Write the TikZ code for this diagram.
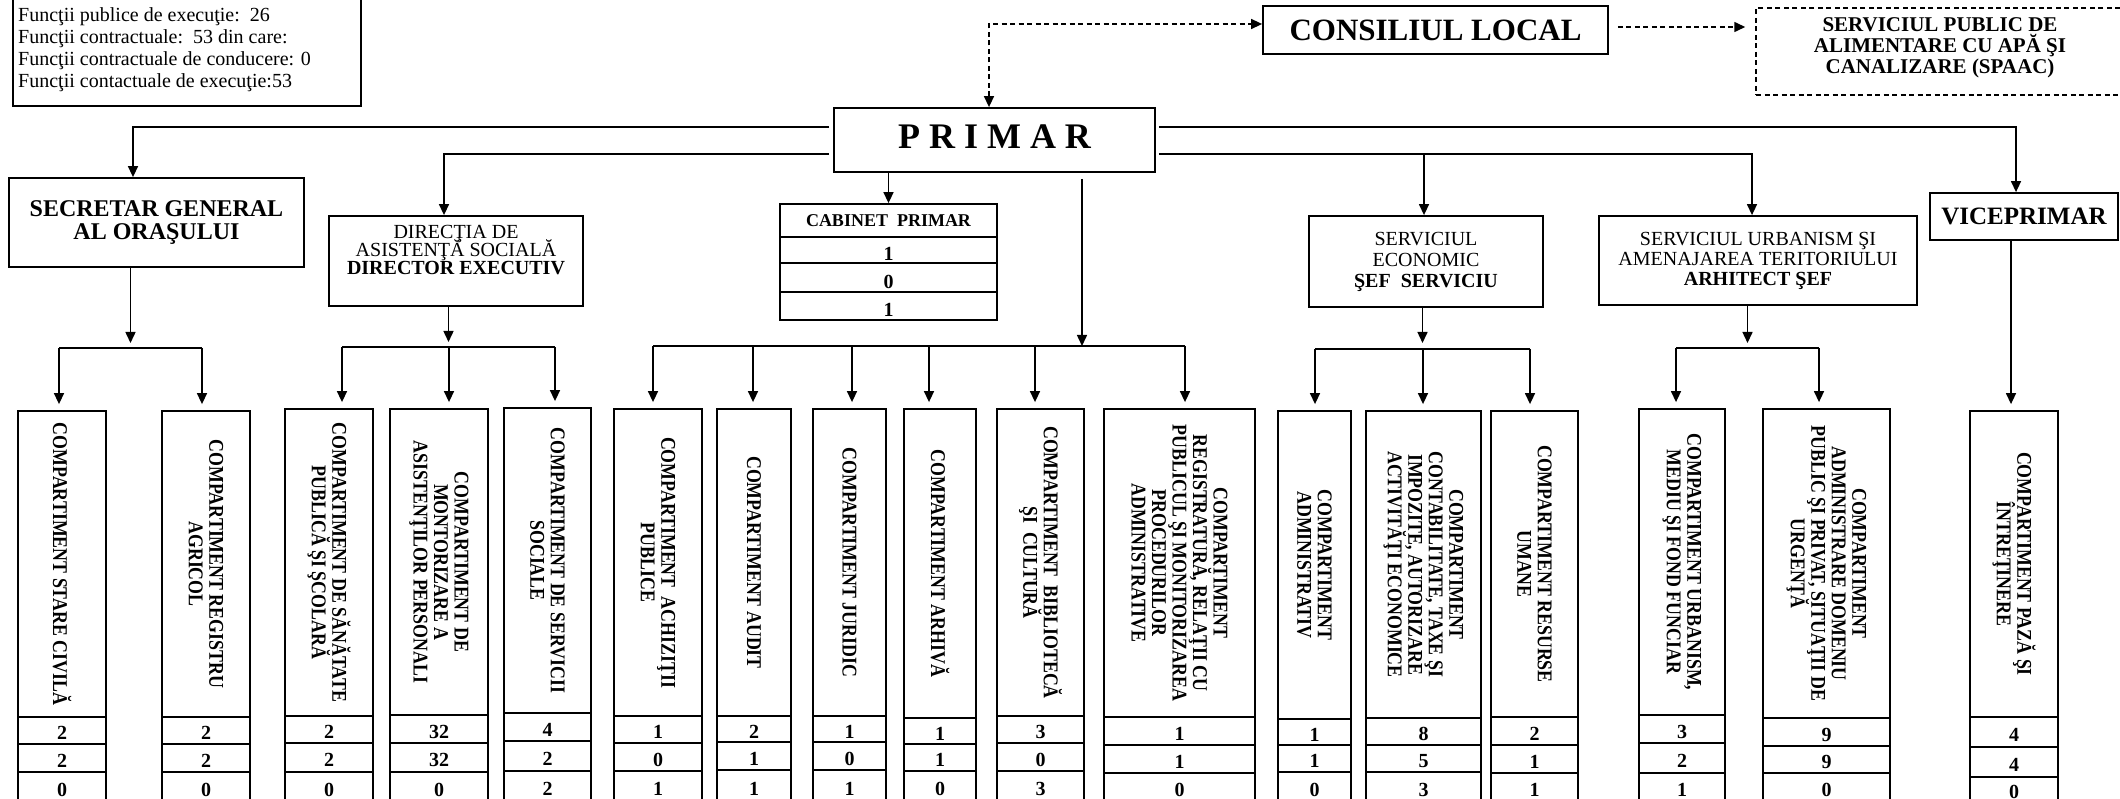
\documentclass[tikz,border=0pt]{standalone}
\usepackage{fontspec}
\setmainfont{Liberation Serif}
\newfontfamily\vfont{Liberation Serif}[FakeStretch=0.85]
\usetikzlibrary{arrows.meta,calc}
\newcommand\fz[2]{\fontsize{#1pt}{#2pt}\selectfont\lineskiplimit=-100pt\lineskip=0pt}
\lineskiplimit=-100pt
\begin{document}
\begin{tikzpicture}[x=1pt,y=-1pt,
  box/.style={draw,line width=1.8pt,inner sep=0pt,rectangle},
  ln/.style={line width=1.5pt},
  arr/.style={line width=1.5pt,-{Triangle[length=11pt,width=10pt]}},
  dsh/.style={line width=1.5pt,dash pattern=on 5pt off 3.5pt},
  vtext/.style={rotate=-90,align=center,inner sep=0pt,font=\vfont\fz{21}{20.5}\bfseries},
  num/.style={font=\fz{20}{20}\bfseries,text height=18pt,text depth=0pt},
]
\useasboundingbox (0,0) rectangle (2120,799);

% info box
\node[box,minimum width=348pt,minimum height=150pt] (info) at (187,31) {};
\node[anchor=north west,align=left,inner sep=0pt,font=\fz{20}{22}] (infot) at (18,7.5)
 {Funcţii publice de execuţie:\ \ 26\\Funcţii contractuale:\ \ 53 din care:\\Funcţii contractuale de conducere: 0\\Funcţii contactuale de execuţie:53};

% top row
\node[box,minimum width=345pt,minimum height=48pt,font=\fz{31}{31}\bfseries] (cl) at (1435.5,30) {CONSILIUL LOCAL};
\node[box,dsh,minimum width=368pt,minimum height=87pt] (spaac) at (1940,51.5) {};
\node[align=center,inner sep=0pt,font=\fz{21}{21}\bfseries] (spaact) at (1940,48)
 {SERVICIUL PUBLIC DE\\ALIMENTARE CU APĂ ŞI\\CANALIZARE (SPAAC)};

\node[box,minimum width=321pt,minimum height=64pt,font=\fz{36}{36}\bfseries,text depth=7pt] (primar) at (994.5,140) {P R I M A R};

% second level
\node[box,minimum width=295pt,minimum height=89pt,align=center,font=\fz{24}{23}\bfseries] (sec) at (156.5,222.5) {SECRETAR GENERAL\\AL ORAŞULUI};
\node[box,minimum width=254pt,minimum height=90pt] (das) at (456,261) {};
\node[align=center,inner sep=0pt,font=\fz{20}{18}] (dast) at (456,250) {DIRECŢIA DE\\ASISTENŢĂ SOCIALĂ\\\textbf{DIRECTOR EXECUTIV}};
\node[box,minimum width=217pt,minimum height=33pt,font=\fz{18}{18}\bfseries] (cab) at (888.5,220.5) {CABINET\ \ PRIMAR};
\node[box,num,text height=22pt,minimum width=217pt,minimum height=26pt] (cab1) at (888.5,250) {1};
\node[box,num,text height=22pt,minimum width=217pt,minimum height=29pt] (cab2) at (888.5,277.5) {0};
\node[box,num,text height=22pt,minimum width=217pt,minimum height=28pt] (cab3) at (888.5,306) {1};
\node[box,minimum width=234pt,minimum height=91pt,align=center,font=\fz{20}{21}] (econ) at (1426,261.5) {SERVICIUL\\ECONOMIC\\\textbf{ŞEF\ \ SERVICIU}};
\node[box,minimum width=318pt,minimum height=89pt,align=center,font=\fz{20}{20}] (urban) at (1758,260.5) {SERVICIUL URBANISM ŞI\\AMENAJAREA TERITORIULUI\\\textbf{ARHITECT ŞEF}};
\node[box,minimum width=188pt,minimum height=47pt,font=\fz{25}{25}\bfseries] (vice) at (2024,216.5) {VICEPRIMAR};

% connectors from PRIMAR
\coordinate (pl1) at ([yshift=13pt]primar.west);
\coordinate (pl2) at ([yshift=-14pt]primar.west);
\coordinate (pr1) at ([yshift=13pt]primar.east);
\coordinate (pr2) at ([yshift=-14pt]primar.east);
\draw[arr,shorten <=4pt] (pl1) -| ([xshift=-23.5pt]sec.north);
\draw[arr,shorten <=4pt] (pl2) -| ([xshift=-12pt]das.north);
\draw[arr,shorten <=3pt] (pr1) -| ([xshift=-8pt]vice.north);
\draw[arr,shorten <=3pt] (pr2) -| ([xshift=-6pt]urban.north);
\coordinate (ein) at ([xshift=-2pt]econ.north);
\draw[arr] (ein |- pr2) -- (ein);
\draw[arr] (cab.north |- primar.south) -- (cab.north);

% dashed links
\coordinate (dk) at (989,24);
\draw[dsh,{Triangle[length=11pt,width=10pt]}-{Triangle[length=11pt,width=10pt]}] (dk |- primar.north) -- (dk) -- (dk -| cl.west);
\draw[dsh,-{Triangle[length=11pt,width=10pt]},shorten <=9pt,shorten >=10pt] ([yshift=3pt]cl.east) -- ([yshift=3pt]cl.east -| spaac.west);

% compartments
\foreach \nm/\xa/\xb/\yt/\yb/\ra/\rb/\na/\nb/\nc/\ax/\by/\txt in {
 sc/18/106/411/717/744/772/2/2/0/59/348/{COMPARTIMENT STARE CIVILĂ},
 ra/162/250/411/717/744/772/2/2/0/202/348/{COMPARTIMENT REGISTRU\\AGRICOL},
 ss/285/373/409/716/743/772/2/2/0/342/347/{COMPARTIMENT DE SĂNĂTATE\\PUBLICĂ ŞI ŞCOLARĂ},
 mo/390/488/409/715/743/772/32/32/0/449/347/{COMPARTIMENT DE\\MONTORIZARE A\\ASISTENŢILOR PERSONALI},
 so/504/591/408/713/741/771/4/2/2/555/347/{COMPARTIMENT DE SERVICII\\SOCIALE},
 ac/614/702/409/716/743/771/1/0/1/653/346/{COMPARTIMENT\ \ ACHIZIŢII\\PUBLICE},
 au/717/791/409/716/742/770/2/1/1/753/346/{COMPARTIMENT AUDIT},
 ju/813/886/409/716/742/770/1/0/1/852/346/{COMPARTIMENT JURIDIC},
 ar/904/976/409/718/744/771/1/1/0/929/346/{COMPARTIMENT ARHIVĂ},
 bi/997/1084/409/716/743/771/3/0/3/1035/346/{COMPARTIMENT\ \ BIBLIOTECĂ\\ŞI\ \ CULTURĂ},
 rg/1104/1255/409/717/745/773/1/1/0/1185/346/{COMPARTIMENT\\REGISTRATURĂ, RELAŢII CU\\PUBLICUL ŞI MONITORIZAREA\\PROCEDURILOR\\ADMINISTRATIVE},
 ad/1278/1351/411/719/745/772/1/1/0/1315/349/{COMPARTIMENT\\ADMINISTRATIV},
 ct/1366/1481/411/718/745/772/8/5/3/1423/349/{COMPARTIMENT\\CONTABILITATE, TAXE ŞI\\IMPOZITE, AUTORIZARE\\ACTIVITĂŢI ECONOMICE},
 rs/1491/1578/411/717/745/773/2/1/1/1530/349/{COMPARTIMENT RESURSE\\UMANE},
 um/1639/1725/409/715/743/773/3/2/1/1676/348/{COMPARTIMENT URBANISM,\\MEDIU ŞI FOND FUNCIAR},
 dm/1763/1890/409/718/746/773/9/9/0/1819/348/{COMPARTIMENT\\ADMINISTRARE DOMENIU\\PUBLIC ŞI PRIVAT, SITUAŢII DE\\URGENŢĂ},
 pz/1970/2058/411/717/747/777/4/4/0/2011/240/{COMPARTIMENT PAZĂ ŞI\\ÎNTREŢINERE}}
{
 \node[box,minimum width={(\xb-\xa)*1pt},minimum height={(\yb-\yt)*1pt}] (\nm) at ({(\xa+\xb)/2},{(\yt+\yb)/2}) {};
 \node[vtext] (\nm-t) at (\nm.center) {\txt};
 \node[box,num,minimum width={(\xb-\xa)*1pt},minimum height={(\ra-\yb)*1pt}] (\nm-1) at ({(\xa+\xb)/2},{(\yb+\ra)/2}) {\na};
 \node[box,num,minimum width={(\xb-\xa)*1pt},minimum height={(\rb-\ra)*1pt}] (\nm-2) at ({(\xa+\xb)/2},{(\ra+\rb)/2}) {\nb};
 \node[box,num,minimum width={(\xb-\xa)*1pt},minimum height={(802-\rb)*1pt}] (\nm-3) at ({(\xa+\xb)/2},{(\rb+802)/2}) {\nc};
 \coordinate (\nm-in) at (\ax,\by);
 \draw[arr,shorten >=6pt] (\nm-in) -- (\nm-in |- \nm.north);
}

% buses
\draw[ln] (sc-in) -- (ra-in);
\draw[ln] (ss-in) -- (so-in);
\draw[ln] (ac-in) -- (rg-in);
\draw[ln] (ad-in) -- (rs-in);
\draw[ln] (um-in) -- (dm-in);

% feeders
\coordinate (fS) at ($(sc-in)!.5!(ra-in)$);
\draw[arr,shorten >=5pt] (fS |- sec.south) -- (fS);
\coordinate (fD) at ($(ss-in)!.5!(so-in)$);
\draw[arr,shorten >=5pt] (fD |- das.south) -- (fD);
\coordinate (fE) at ($(ad-in)!.5!(rs-in)$);
\draw[arr,shorten >=6pt] (fE |- econ.south) -- (fE);
\coordinate (fU) at ($(um-in)!.5!(dm-in)$);
\draw[arr,shorten >=5pt] (fU |- urban.south) -- (fU);
\coordinate (fM) at (1082,346);
\draw[arr,shorten <=6pt] (fM |- primar.south) -- (fM);
\end{tikzpicture}
\end{document}
